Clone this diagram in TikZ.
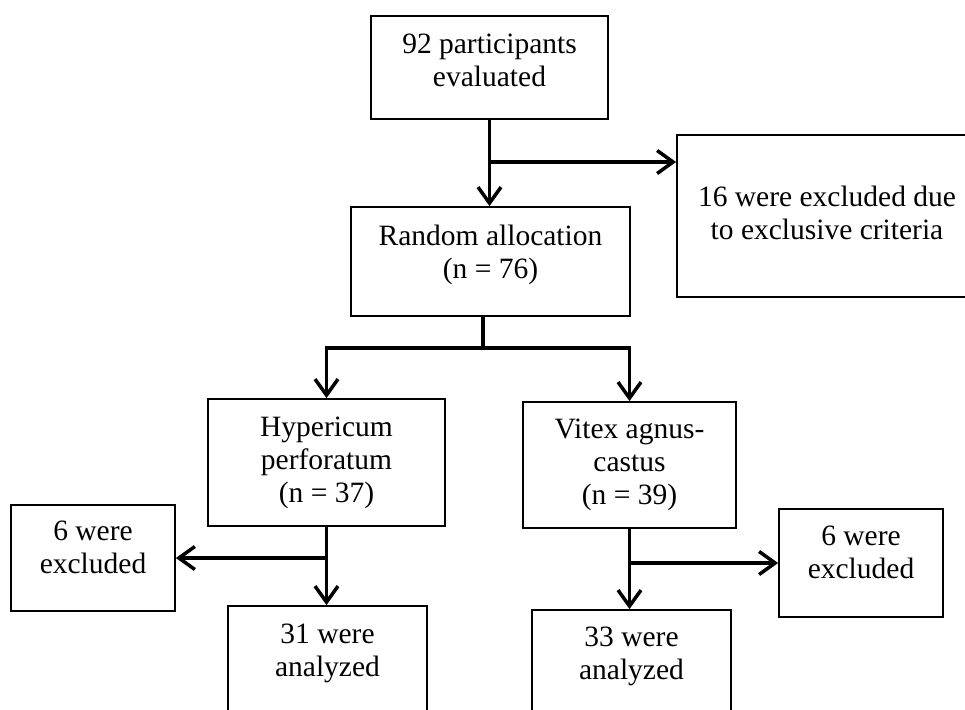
\documentclass[tikz,border=0pt]{standalone}
\usepackage{fontspec}
\setmainfont{Liberation Serif}
\usetikzlibrary{arrows.meta}
\newcommand\liftup[2]{\raisebox{#1}[\height][\depth]{\begin{tabular}{@{}c@{}}#2\end{tabular}}}
\begin{document}
\begin{tikzpicture}[x=1pt,y=-1pt,
  box/.style={draw=black, line width=1.8pt, rectangle, inner sep=0pt, align=center,
    font=\fontsize{29.5}{33}\selectfont},
  conn/.style={line width=3.5pt, black},
  arr/.style={conn, -{Straight Barb[length=16pt,width=23pt,line width=3.5pt]}}]
\useasboundingbox (0,0) rectangle (965,709);
\clip (0,0) rectangle (965,709);
\fill[white] (0,0) rectangle (965,709);

\node[box, minimum width=237, minimum height=103] (B1) at (489.5,67.5) {\liftup{4pt}{92 participants\\evaluated}};
\node[box, minimum width=300, minimum height=162] (B16) at (827,216) {\liftup{0pt}{16 were excluded due\\to exclusive criteria}};
\node[box, minimum width=279, minimum height=109] (RA) at (490.5,261.5) {\liftup{6pt}{Random allocation\\(n = 76)}};
\node[box, minimum width=237, minimum height=127] (Hyp) at (326.5,462.5) {\liftup{0pt}{Hypericum\\perforatum\\(n = 37)}};
\node[box, minimum width=213, minimum height=126] (Vit) at (629.5,465) {\liftup{0pt}{Vitex agnus-\\castus\\(n = 39)}};
\node[box, minimum width=164, minimum height=106] (L6) at (93,558) {\liftup{8pt}{6 were\\excluded}};
\node[box, minimum width=164, minimum height=108] (R6) at (861,563) {\liftup{8pt}{6 were\\excluded}};
\node[box, minimum width=199, minimum height=120] (A31) at (327.5,666) {\liftup{13pt}{31 were\\analyzed}};
\node[box, minimum width=199, minimum height=120] (A33) at (631.5,670) {\liftup{14pt}{33 were\\analyzed}};

\coordinate (j1) at (491,162);
\coordinate (bar) at (483,348);

\draw[arr] (B1.south) -- (B1.south |- RA.north);
\draw[arr] (j1) -- (j1 -| B16.west);

\draw[conn] (bar |- RA.south) -- (bar);
\draw[conn] ([xshift=-1.75pt]Hyp.north |- bar) -- ([xshift=1.75pt]Vit.north |- bar);
\draw[arr] (Hyp.north |- bar) -- (Hyp.north);
\draw[arr] (Vit.north |- bar) -- (Vit.north);

\draw[arr] (Hyp.south) -- (Hyp.south |- A31.north);
\draw[arr] (Hyp.south |- L6.east) -- (L6.east);
\draw[arr] (Vit.south) -- (Vit.south |- A33.north);
\draw[arr] (Vit.south |- R6.west) -- (R6.west);
\end{tikzpicture}
\end{document}
